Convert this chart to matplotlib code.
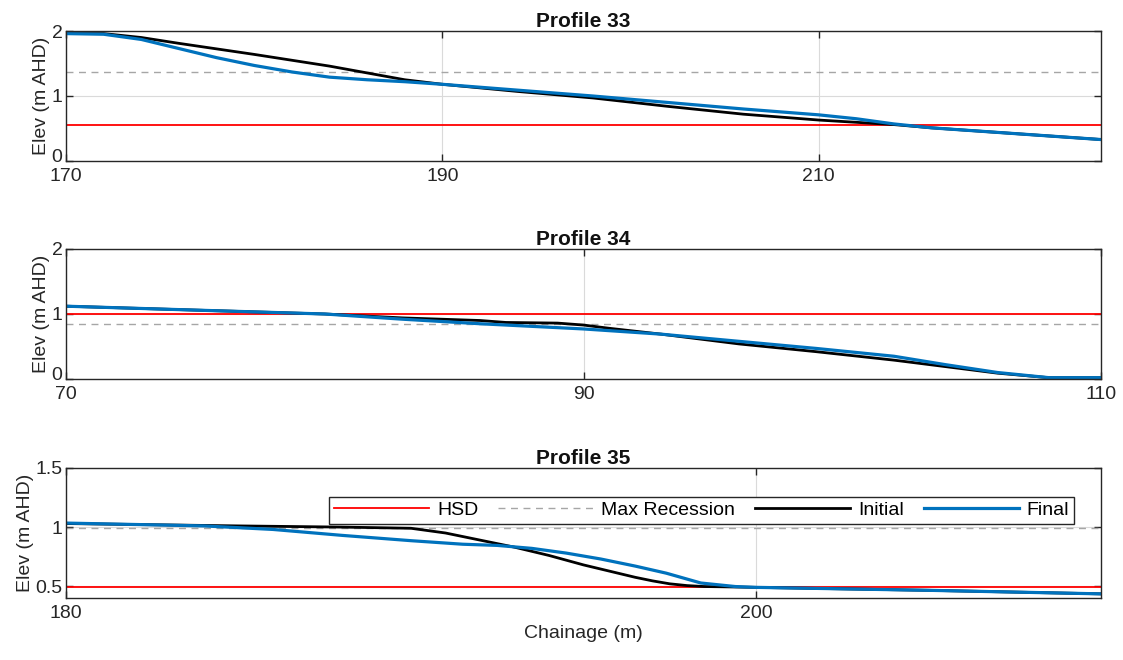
import matplotlib
matplotlib.use("Agg")
import matplotlib.pyplot as plt
from matplotlib.ticker import FuncFormatter
from matplotlib.transforms import ScaledTranslation

plt.rcParams['font.family'] = ['Liberation Sans', 'DejaVu Sans']

# ---- Profile 33 ----
p33_init_x = [170, 172, 174, 176, 180, 184, 188, 190, 194, 198, 202, 206, 210, 214, 216, 220, 225]
p33_init_y = [1.96, 1.96, 1.90, 1.81, 1.64, 1.46, 1.25, 1.18, 1.07, 0.97, 0.84, 0.72, 0.63, 0.56, 0.51, 0.43, 0.33]
p33_final_x = [170, 172, 174, 176, 178, 180, 182, 184, 186, 188, 190, 194, 198, 202, 206, 210, 212, 214, 216, 220, 225]
p33_final_y = [1.96, 1.95, 1.87, 1.73, 1.59, 1.47, 1.37, 1.29, 1.25, 1.22, 1.18, 1.09, 1.00, 0.90, 0.80, 0.71, 0.65, 0.57, 0.51, 0.43, 0.33]
p33_hsd = 0.56
p33_maxrec = 1.37

# ---- Profile 34 ----
p34_init_x = [70, 75, 80, 83, 86, 87, 89, 90, 91, 93, 96, 99, 102, 104, 106, 108, 110]
p34_init_y = [1.12, 1.06, 1.00, 0.94, 0.90, 0.87, 0.86, 0.83, 0.78, 0.69, 0.54, 0.42, 0.29, 0.19, 0.09, 0.02, 0.02]
p34_final_x = [70, 75, 80, 83, 86, 89, 90, 93, 96, 99, 102, 104, 106, 108, 110]
p34_final_y = [1.12, 1.06, 1.00, 0.92, 0.85, 0.79, 0.77, 0.69, 0.58, 0.47, 0.35, 0.22, 0.10, 0.02, 0.02]
p34_hsd = 1.00
p34_maxrec = 0.85

# ---- Profile 35 ----
p35_init_x = [180, 185, 188, 190, 191, 192, 193, 194, 195, 195.5, 196, 196.5, 197, 197.5,
              198, 198.5, 199, 200, 205, 210]
p35_init_y = [1.03, 1.01, 1.00, 0.99, 0.95, 0.89, 0.83, 0.76, 0.68, 0.645, 0.61, 0.575, 0.545, 0.52,
              0.505, 0.497, 0.495, 0.49, 0.465, 0.435]
p35_final_x = [180, 184, 186, 188, 190, 191.5, 192.5, 193.5, 194.5, 195.5, 196.5, 197.4, 198.4,
               199.4, 200, 205, 210]
p35_final_y = [1.034, 1.01, 0.98, 0.93, 0.885, 0.855, 0.845, 0.82, 0.78, 0.73, 0.67, 0.61, 0.527,
               0.497, 0.49, 0.465, 0.435]
p35_hsd = 0.495
p35_maxrec = 0.99

profiles = [
    dict(title="Profile 33", xi=p33_init_x, yi=p33_init_y, xf=p33_final_x, yf=p33_final_y,
         hsd=p33_hsd, mr=p33_maxrec, xlim=(170, 225), ylim=(0, 2),
         xticks=[170, 190, 210], yticks=[0, 1, 2]),
    dict(title="Profile 34", xi=p34_init_x, yi=p34_init_y, xf=p34_final_x, yf=p34_final_y,
         hsd=p34_hsd, mr=p34_maxrec, xlim=(70, 110), ylim=(0, 2),
         xticks=[70, 90, 110], yticks=[0, 1, 2]),
    dict(title="Profile 35", xi=p35_init_x, yi=p35_init_y, xf=p35_final_x, yf=p35_final_y,
         hsd=p35_hsd, mr=p35_maxrec, xlim=(180, 210), ylim=(0.4, 1.5),
         xticks=[180, 200], yticks=[0.5, 1, 1.5]),
]

FS = 14
W, H = 1123, 660
fig = plt.figure(figsize=(W / 100, H / 100), dpi=100)

left, right = 66, 1101
tops = [31, 249, 468]
height = 130

frame_col = "#262626"
for i, p in enumerate(profiles):
    top = tops[i]
    ax = fig.add_axes([left / W, 1 - (top + height) / H, (right - left) / W, height / H])
    ax.set_xlim(*p["xlim"])
    ax.set_ylim(*p["ylim"])
    ax.set_xticks(p["xticks"])
    ax.set_yticks(p["yticks"])
    ax.yaxis.set_major_formatter(FuncFormatter(lambda v, pos: "%g" % v))
    ax.grid(True, color="#DADADA", linewidth=0.8)
    ax.set_axisbelow(True)
    ax.tick_params(direction="in", length=5, width=1, top=True, right=True,
                   labelsize=FS, colors=frame_col, labelcolor="#262626")
    ax.tick_params(axis="x", pad=5)
    ax.tick_params(axis="y", pad=2.5)
    for s in ax.spines.values():
        s.set_color(frame_col)
        s.set_linewidth(1.0)

    # the lowest y label sits a little above the bottom edge, clear of the x labels
    if p["ylim"][0] == p["yticks"][0]:
        lab = ax.yaxis.get_major_ticks()[0].label1
        lab.set_transform(lab.get_transform() + ScaledTranslation(0, 4 / 72, fig.dpi_scale_trans))

    ax.axhline(p["hsd"], color="#FF0000", linewidth=1.3, label="HSD")
    ax.axhline(p["mr"], color="#A6A6A6", linewidth=1.0, linestyle=(0, (5, 4)),
               label="Max Recession")
    ax.plot(p["xi"], p["yi"], color="black", linewidth=2.0, label="Initial")
    ax.plot(p["xf"], p["yf"], color="#0072BD", linewidth=2.3, label="Final")

    ax.set_title(p["title"], fontsize=15, fontweight="bold", pad=3, color="#111111")
    ax.set_ylabel("Elev (m AHD)", fontsize=FS, color="#262626", labelpad=1)

    if i == 2:
        ax.set_xlabel("Chainage (m)", fontsize=FS, color="#262626", labelpad=2)
        x0 = (329 - left) / (right - left)
        x1 = (1074 - left) / (right - left)
        y0 = (top + height - 524) / height
        y1 = (top + height - 485) / height
        leg = ax.legend(loc="lower left", bbox_to_anchor=(x0, y0, x1 - x0, y1 - y0),
                        mode="expand", ncol=4, fontsize=FS, handlelength=4.9,
                        handletextpad=0.4, borderaxespad=0, borderpad=0.25,
                        fancybox=False, framealpha=1, edgecolor=frame_col)
        leg.get_frame().set_linewidth(1.0)

fig.savefig("out.png", dpi=100)
